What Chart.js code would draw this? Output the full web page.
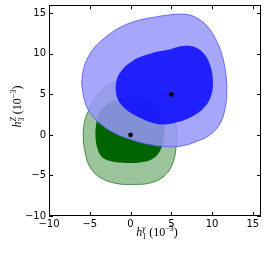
<!DOCTYPE html>
<html>
<head>
<meta charset="utf-8">
<script src="https://cdn.jsdelivr.net/npm/chart.js@4.4.1/dist/chart.umd.min.js"></script>
<style>
  html, body { margin: 0; padding: 0; background: #fff; }
  canvas { display: block; }
</style>
</head>
<body>
<canvas id="contours" width="267" height="256"></canvas>
<script>
// contour outlines, [h1gamma, h3Z] in units of 1e-3
const blueOuter = [
  [-6.0, 6.3], [-5.75, 8.2], [-5.2, 9.6], [-4.4, 10.8], [-3.0, 12.1], [-1.3, 13.25],
  [0.7, 14.05], [2.8, 14.5], [4.8, 14.8], [6.3, 14.9], [7.4, 14.75], [8.4, 14.25],
  [9.4, 13.4], [10.4, 11.9], [11.2, 9.9], [11.7, 7.4], [11.8, 5.3], [11.6, 3.3],
  [11.0, 1.45], [9.8, 0.05], [8.1, -0.8], [6.3, -1.35], [4.6, -1.45], [2.2, -1.15],
  [0, -0.55], [-1.9, 0.2], [-3.55, 1.25], [-4.8, 2.5], [-5.6, 4.1], [-6.0, 6.3]
];
const blueInner = [
  [-1.85, 5.8], [-1.6, 7.1], [-0.9, 8.2], [0.2, 9.1], [1.4, 9.7], [3.4, 10.3],
  [4.8, 10.55], [5.8, 10.85], [6.6, 11.0], [7.7, 10.9], [8.9, 10.15], [9.75, 8.65],
  [10.1, 6.6], [9.85, 4.75], [8.95, 3.3], [7.5, 2.25], [5.7, 1.55], [4.3, 1.3],
  [2.9, 1.45], [0.9, 2.25], [-0.7, 3.3], [-1.6, 4.5], [-1.85, 5.8]
];
const greenOuter = [
  [0, 6.95], [1.8, 6.7], [3.2, 6.0], [4.4, 4.6], [5.2, 2.9], [5.6, 1.0], [5.6, -1.2],
  [5.2, -3.4], [4.2, -5.0], [2.5, -5.9], [0.3, -6.1], [-1.9, -5.95], [-3.8, -5.2],
  [-5.0, -3.9], [-5.6, -2.0], [-5.8, 0], [-5.6, 1.8], [-5.1, 3.1], [-4.3, 4.6],
  [-2.8, 6.1], [-1.3, 6.75], [0, 6.95]
];
const greenInner = [
  [0, 4.42], [1.5, 4.3], [2.7, 3.85], [3.7, 2.7], [4.15, 1.0], [4.05, -0.6], [3.6, -2.0],
  [2.6, -3.0], [1.1, -3.4], [-0.5, -3.45], [-2.1, -3.3], [-3.35, -2.85], [-4.0, -1.85],
  [-4.3, -0.2], [-4.2, 1.4], [-3.9, 2.6], [-2.9, 3.75], [-1.6, 4.3], [0, 4.42]
];
const greenBest = [[0, 0]];
const blueBest = [[5, 5]];

const xTicks = [-10, -5, 0, 5, 10, 15];
const yTicks = [-10, -5, 0, 5, 10, 15];
const xRange = [-10, 16];
const yRange = [-10, 16];

const toXY = pts => pts.map(p => ({ x: p[0], y: p[1] }));
const minus = v => (v < 0 ? '\u2212' + Math.abs(v) : String(v));

function shape(pts, fill, border, width, order) {
  return {
    data: toXY(pts),
    showLine: true,
    fill: 'shape',
    backgroundColor: fill,
    borderColor: border,
    borderWidth: width,
    tension: 0.4,
    pointRadius: 0,
    order: order
  };
}

function marker(pts) {
  return {
    data: toXY(pts),
    pointStyle: 'star',
    pointRadius: 2.5,
    borderColor: '#000',
    backgroundColor: '#000',
    borderWidth: 1.2,
    order: 0
  };
}

// math-style text pieces: hold = stack the next piece above this one
function layoutPieces(ctx, pieces) {
  let w = 0, held = 0;
  const out = [];
  pieces.forEach(p => {
    ctx.font = p.font;
    const pw = ctx.measureText(p.text).width;
    out.push(Object.assign({}, p, { x: w }));
    if (p.hold) { held = pw; } else { w += Math.max(pw, held); held = 0; }
  });
  return { out, w };
}

function drawPieces(ctx, pieces, cx, base) {
  const { out, w } = layoutPieces(ctx, pieces);
  const x0 = cx - w / 2;
  ctx.textAlign = 'left';
  ctx.textBaseline = 'alphabetic';
  out.forEach(p => {
    ctx.font = p.font;
    ctx.fillText(p.text, x0 + p.x, base + p.dy);
  });
}

const big = 'italic 12px "Liberation Serif"';
const upr = '12px "Liberation Serif"';
const small = '8px "Liberation Serif"';
const smallIt = 'italic 8px "Liberation Serif"';

const xLabel = [
  { text: 'h', font: big, dy: 0 },
  { text: '1', font: small, dy: 2.5, hold: true },
  { text: '\u03b3', font: smallIt, dy: -5 },
  { text: ' (10', font: upr, dy: 0 },
  { text: '\u22123', font: small, dy: -5 },
  { text: ')', font: upr, dy: 0 }
];
const yLabel = [
  { text: 'h', font: big, dy: 0 },
  { text: '3', font: small, dy: 2.5, hold: true },
  { text: 'Z', font: smallIt, dy: -5 },
  { text: ' (10', font: upr, dy: 0 },
  { text: '\u22123', font: small, dy: -5 },
  { text: ')', font: upr, dy: 0 }
];

const frame = {
  id: 'frame',
  afterDatasetsDraw(chart) {
    const { ctx, chartArea: a, scales: { x, y } } = chart;
    ctx.save();
    ctx.strokeStyle = '#000';
    ctx.lineWidth = 1;
    ctx.beginPath();
    xTicks.forEach(v => {
      const px = Math.round(x.getPixelForValue(v)) + 0.5;
      ctx.moveTo(px, a.bottom); ctx.lineTo(px, a.bottom - 4);
      ctx.moveTo(px, a.top); ctx.lineTo(px, a.top + 4);
    });
    yTicks.forEach(v => {
      const py = Math.round(y.getPixelForValue(v)) + 0.5;
      ctx.moveTo(a.left, py); ctx.lineTo(a.left + 4, py);
      ctx.moveTo(a.right, py); ctx.lineTo(a.right - 4, py);
    });
    ctx.stroke();
    ctx.strokeRect(Math.round(a.left) + 0.5, Math.round(a.top) + 0.5,
      Math.round(a.width) - 1, Math.round(a.height) - 1);
    ctx.fillStyle = '#000';
    drawPieces(ctx, xLabel, (a.left + a.right) / 2 + 2, 236);
    ctx.translate(21, (a.top + a.bottom) / 2 - 4);
    ctx.rotate(-Math.PI / 2);
    drawPieces(ctx, yLabel, 0, 0);
    ctx.restore();
  }
};

function fixedAxis(ticks, range, size) {
  return {
    type: 'linear',
    min: range[0],
    max: range[1],
    afterBuildTicks: s => { s.ticks = ticks.map(v => ({ value: v })); },
    afterFit: s => {
      if (s.isHorizontal()) s.height = size; else s.width = size;
      s.paddingTop = 0; s.paddingBottom = 0; s.paddingLeft = 0; s.paddingRight = 0;
    },
    grid: { display: false, drawTicks: false },
    border: { display: false },
    ticks: {
      color: '#000',
      padding: 3,
      font: { family: 'DejaVu Sans', size: 10, lineHeight: 1 },
      maxRotation: 0,
      autoSkip: false,
      callback: v => minus(v)
    }
  };
}

new Chart(document.getElementById('contours'), {
  type: 'scatter',
  data: {
    datasets: [
      shape(greenOuter, 'rgb(155,196,155)', 'rgba(60,125,60,0.9)', 1, 4),
      shape(greenInner, 'rgb(0,100,0)', 'rgba(0,100,0,0)', 0, 3),
      shape(blueOuter, 'rgba(151,151,249,0.86)', 'rgba(95,95,245,0.9)', 1, 2),
      shape(blueInner, 'rgba(0,0,255,0.8)', 'rgba(0,0,255,0)', 0, 1),
      marker(greenBest),
      marker(blueBest)
    ]
  },
  options: {
    responsive: false,
    animation: false,
    devicePixelRatio: 1,
    layout: { padding: { left: 0, right: 6, top: 5, bottom: 0 } },
    plugins: {
      legend: { display: false },
      tooltip: { enabled: false }
    },
    scales: {
      x: fixedAxis(xTicks, xRange, 40),
      y: fixedAxis(yTicks, yRange, 49)
    }
  },
  plugins: [frame]
});
</script>
</body>
</html>
